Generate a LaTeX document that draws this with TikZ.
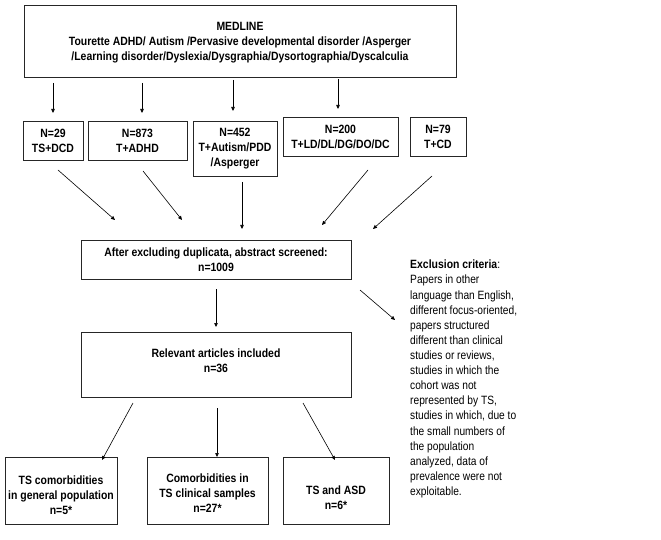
\documentclass[tikz,border=0pt]{standalone}
\usepackage{fontspec}
\setmainfont{Liberation Sans}[FakeStretch=0.85,BoldFeatures={FakeStretch=0.87}]
\usetikzlibrary{arrows.meta}
\begin{document}
\begin{tikzpicture}[x=1bp,y=-1bp,
  box/.style={draw=black!85,line width=0.9bp,align=center,inner sep=0pt,font=\fontsize{12bp}{15bp}\selectfont\bfseries},
  txt/.style={align=center,inner sep=0pt,font=\fontsize{12bp}{15bp}\selectfont\bfseries},
  arr/.style={line width=0.6bp,draw=black,-{Triangle[length=4bp,width=3.5bp]}},
  excl/.style={align=left,inner sep=0pt,anchor=north west,font=\fontsize{12bp}{15.1bp}\selectfont}]
\useasboundingbox (0,0) rectangle (661,540);
\node[box,minimum width=432bp,minimum height=72bp] (med) at (240,41) {};
\node[txt] (medt) at ([yshift=-2bp]med.center) {MEDLINE\\Tourette ADHD/ Autism /Pervasive developmental disorder /Asperger\\/Learning disorder/Dyslexia/Dysgraphia/Dysortographia/Dyscalculia};
\node[box,minimum width=60bp,minimum height=39bp] (n29) at (53,140.5) {N=29\\TS+DCD};
\node[box,minimum width=99bp,minimum height=39bp] (n873) at (137.5,140.5) {N=873\\T+ADHD};
\node[box,minimum width=84bp,minimum height=55bp] (n452) at (235,148.5) {N=452\\T+Autism/PDD\\/Asperger};
\node[box,minimum width=115bp,minimum height=39bp] (n200) at (340.5,136.5) {N=200\\T+LD/DL/DG/DO/DC};
\node[box,minimum width=56bp,minimum height=39bp] (n79) at (438,136.5) {N=79\\T+CD};
\node[box,minimum width=270bp,minimum height=39bp] (after) at (216,259.5) {After excluding duplicata, abstract screened:\\n=1009};
\node[box,minimum width=270bp,minimum height=65bp] (rel) at (216,364.5) {};
\node[txt] (relt) at ([yshift=4bp]rel.center) {Relevant articles included\\n=36};
\node[box,minimum width=112bp,minimum height=67bp] (gen) at (61,490.5) {};
\node[txt] (gent) at ([yshift=-5bp]gen.center) {TS comorbidities\\in general population\\n=5*};
\node[box,minimum width=121bp,minimum height=67bp] (clin) at (207.5,490.5) {};
\node[txt] (clint) at ([yshift=-2.5bp]clin.center) {Comorbidities in\\TS clinical samples\\n=27*};
\node[box,minimum width=106bp,minimum height=67bp] (asd) at (336,490.5) {};
\node[txt] (asdt) at ([yshift=-7bp]asd.center) {TS and ASD\\n=6*};
\node[excl] (exc) at (410,260) {\textbf{Exclusion criteria}:\\Papers in other\\language than English,\\different focus-oriented,\\papers structured\\different than clinical\\studies or reviews,\\studies in which the\\cohort was not\\represented by TS,\\studies in which, due to\\the small numbers of\\the population\\analyzed, data of\\prevalence were not\\exploitable.};
% arrow endpoints
\coordinate (a1s) at (53,83);  \coordinate (a1e) at (53,113);
\coordinate (a2s) at (142,83); \coordinate (a2e) at (142,113);
\coordinate (a3s) at (233,80); \coordinate (a3e) at (233,111);
\coordinate (a4s) at (338,79); \coordinate (a4e) at (338,109);
\coordinate (b1s) at (58,170);  \coordinate (b1e) at (115,220);
\coordinate (b2s) at (143,171); \coordinate (b2e) at (182,220);
\coordinate (b3s) at (242,182); \coordinate (b3e) at (242,229);
\coordinate (b4s) at (368,170); \coordinate (b4e) at (322,225);
\coordinate (b5s) at (432,176); \coordinate (b5e) at (373,229);
\coordinate (c1s) at (216,289); \coordinate (c1e) at (216,327);
\coordinate (c2s) at (360,290); \coordinate (c2e) at (395,320);
\coordinate (d1s) at (133,403); \coordinate (d1e) at (102,460);
\coordinate (d2s) at (217,408); \coordinate (d2e) at (217,457);
\coordinate (d3s) at (303,403); \coordinate (d3e) at (335,460);
\foreach \p in {a1,a2,a3,a4,b1,b2,b3,b4,b5,c1,c2,d1,d2,d3}
  \draw[arr] (\p s) -- (\p e);
\end{tikzpicture}
\end{document}
